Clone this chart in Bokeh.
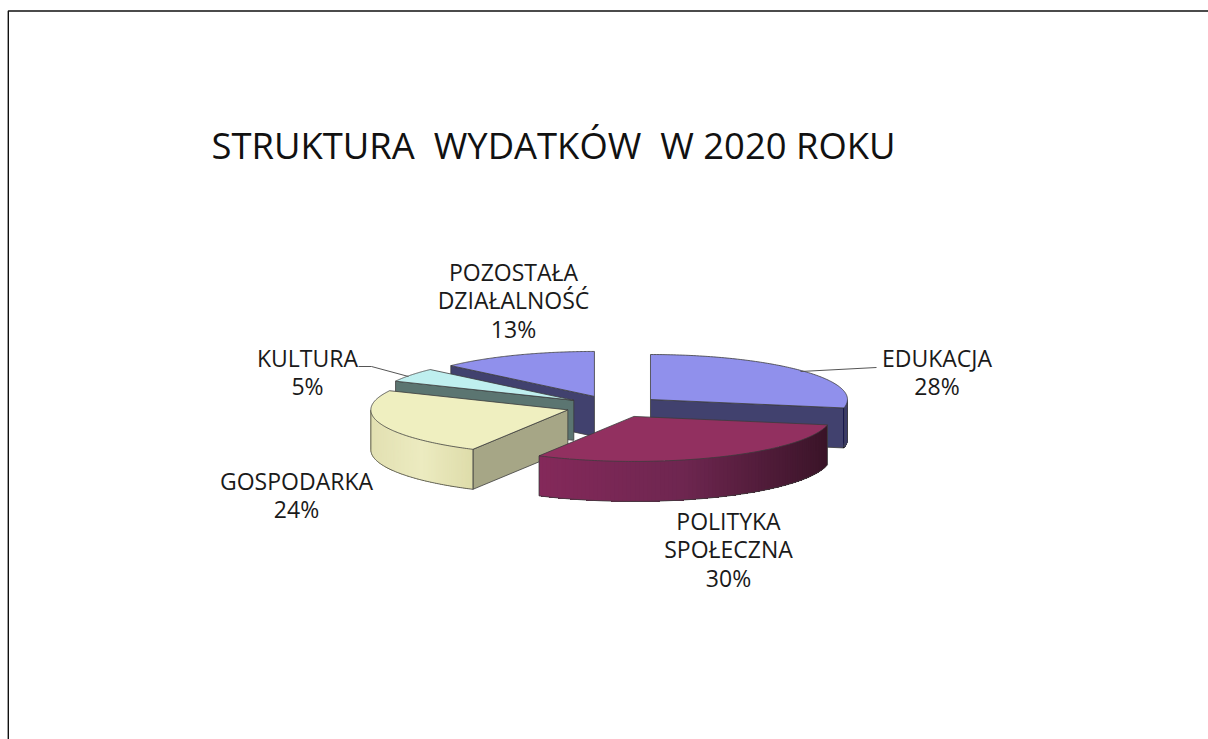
import numpy as np
from bokeh.plotting import figure
from bokeh.models import Range1d, ColumnDataSource
from bokeh.core.properties import value
from bokeh.embed import file_html
from bokeh.resources import INLINE

# ---- data
title = "STRUKTURA\u00a0\u00a0WYDATKÓW\u00a0\u00a0W 2020 ROKU"
categories = ["EDUKACJA", "POLITYKA\nSPOŁECZNA", "GOSPODARKA", "KULTURA", "POZOSTAŁA\nDZIAŁALNOŚĆ"]
shares = [28, 30, 24, 5, 13]

# ---- styles and layout
FONT = "Open Sans"
W, H = 1208, 739
CX, CY, RX, RY = 613, 406, 197, 45
EXPLODE, DEPTH = 48, 40
top_colors = ["#9090ec", "#923060", "#efefc0", "#bfefef", "#9090ec"]
cut_colors = ["#41416e", "#5a1c3c", "#a6a686", "#5b7571", "#41416e"]
wall_stops = [
    ["#41416e", "#41416e"],
    ["#84295a", "#6e2650", "#3a1428"],
    ["#e2e0b2", "#ecebc0", "#dedcaa"],
    ["#5b7571", "#5b7571"],
    ["#41416e", "#41416e"],
]
draw_order = [4, 3, 2, 0, 1]
label_xy = [(936.5, 357), (728, 520), (296, 480), (307, 357), (513, 271)]
LINE_H = 28.5
EDGE = "#3c3c3c"

p = figure(width=W, height=H, x_range=Range1d(0, W), y_range=Range1d(H, 0),
           toolbar_location=None, output_backend="svg", min_border=0,
           outline_line_color=None, background_fill_color="white", border_fill_color="white")
p.axis.visible = False
p.grid.visible = False

# page frame
p.line([7.8, 7.8, W], [H, 10.5, 10.5], line_color="#111111", line_width=1.4)

total = sum(shares)
edges = np.concatenate([[0], np.cumsum(shares)]) * 2 * np.pi / total


def rgb(h):
    return [int(h[i:i + 2], 16) for i in (1, 3, 5)]


def ramp(stops, t):
    pos = np.linspace(0, 1, len(stops))
    c = [np.interp(t, pos, [rgb(s)[k] for s in stops]) for k in range(3)]
    return "#%02x%02x%02x" % tuple(int(round(v)) for v in c)


for i in draw_order:
    a0, a1 = edges[i], edges[i + 1]
    mid = (a0 + a1) / 2
    ax = CX + EXPLODE * np.sin(mid)
    ay = CY - EXPLODE * RY / RX * np.cos(mid)
    th = np.linspace(a0, a1, 120)
    xs = ax + RX * np.sin(th)
    ys = ay - RY * np.cos(th)

    # flat cut wall facing the viewer
    for ang, sign in ((a0, -1), (a1, 1)):
        if sign * np.sin(ang) > 1e-6:
            ex, ey = ax + RX * np.sin(ang), ay - RY * np.cos(ang)
            p.patch([ax, ex, ex, ax], [ay, ey, ey + DEPTH, ay + DEPTH],
                    fill_color=cut_colors[i], line_color=EDGE, line_width=0.8)

    # curved outer wall: overlapping strips, each running on to the wall's far end
    lo, hi = max(a0, np.pi / 2), min(a1, 3 * np.pi / 2)
    if hi > lo:
        tw = np.linspace(lo, hi, 90)
        wx = ax + RX * np.sin(tw)
        wy = ay - RY * np.cos(tw)
        span = max(wx.max() - wx.min(), 1)
        sx, sy, sc = [], [], []
        for j in range(len(tw) - 1):
            sx.append(list(wx[j:]) + list(wx[j:][::-1]))
            sy.append(list(wy[j:]) + list((wy[j:] + DEPTH)[::-1]))
            sc.append(ramp(wall_stops[i], ((wx[j] + wx[j + 1]) / 2 - wx.min()) / span))
        src = ColumnDataSource(dict(x=sx, y=sy, c=sc))
        p.patches("x", "y", source=src, fill_color="c", line_color=None)
        p.line(list(wx), list(wy + DEPTH), line_color=EDGE, line_width=0.8)
        p.line([wx[0], wx[0]], [wy[0], wy[0] + DEPTH], line_color=EDGE, line_width=0.8)
        p.line([wx[-1], wx[-1]], [wy[-1], wy[-1] + DEPTH], line_color=EDGE, line_width=0.8)

    # top face
    p.patch([ax, *xs], [ay, *ys], fill_color=top_colors[i], line_color=EDGE, line_width=0.8)

# title
p.text([211], [144], text=[title], text_font=value(FONT), text_font_size="36.4px",
       text_color="#111111", text_align="left", text_baseline="middle")

# labels
tx, ty, tt = [], [], []
for cat, share, (lx, ly) in zip(categories, shares, label_xy):
    rows = cat.split("\n") + [f"{share}%"]
    for k, row in enumerate(rows):
        tx.append(lx)
        ty.append(ly + k * LINE_H)
        tt.append(row)
p.text(tx, ty, text=tt, text_font=value(FONT), text_font_size="23px", text_color="#1a1a1a",
       text_align="center", text_baseline="middle")

# leader lines
p.line([800, 876], [371, 367], line_color="#555555", line_width=1)
p.line([358, 371, 408], [366, 366, 376], line_color="#555555", line_width=1)

open("out.html", "w").write(file_html(p, INLINE))
